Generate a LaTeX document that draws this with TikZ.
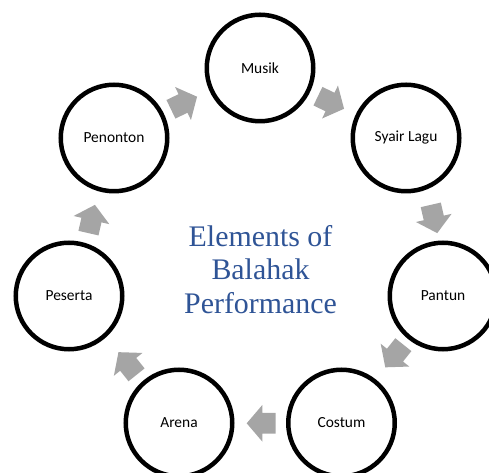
\documentclass[tikz,border=0pt]{standalone}
\usepackage{fontspec}
\setmainfont{Liberation Serif}
\newfontfamily\labelfont{Carlito}
\definecolor{arrowgrey}{HTML}{A5A5A5}
\definecolor{titleblue}{HTML}{2F5496}
\begin{document}
\begin{tikzpicture}[x=1bp,y=1bp,
  ring/.style={circle, draw=black, line width=4.5bp, minimum size=106.5bp, inner sep=0pt,
    font=\labelfont\fontsize{15.5}{18}\selectfont},
  titleline/.style={text=titleblue, font=\fontsize{30}{33.5}\selectfont, anchor=base, inner sep=0pt},
  blockarrow/.style={fill=arrowgrey, draw=none}]
\useasboundingbox (0,0) rectangle (489,473);
\begin{scope}
\clip (0,0) rectangle (489,460);
\node[ring] (musik)    at (260,405)   {Musik};
\node[ring] (syair)    at (406,335)   {Syair Lagu};
\node[ring] (pantun)   at (443,177)   {Pantun};
\node[ring] (costum)   at (341.5,50)  {Costum};
\node[ring] (arena)    at (179,50)    {Arena};
\node[ring] (peserta)  at (69,177)    {Peserta};
\node[ring] (penonton) at (114,335)   {Penonton};
\end{scope}
% arrow positions
\coordinate (a1) at (184,370);
\coordinate (a2) at (331,370.5);
\coordinate (a3) at (434,254);
\coordinate (a4) at (394.3,117);
\coordinate (a5) at (261.2,49.7);
\coordinate (a6) at (127.5,109.5);
\coordinate (a7) at (91.7,254);
\foreach \c/\ang in {a1/25.7, a2/-25.7, a3/-77.1, a4/-128.6, a5/180, a6/128.6, a7/77.1}{
  \begin{scope}[shift={(\c)}, rotate=\ang]
    \fill[blockarrow] (-14.5,10.3) -- (-1.1,10.3) -- (-1.1,18.3) -- (14.5,0)
      -- (-1.1,-18.3) -- (-1.1,-10.3) -- (-14.5,-10.3) -- cycle;
  \end{scope}
}
\node[titleline] (t1) at (260.5,226.5) {Elements of};
\node[titleline] (t2) at (260.5,193)   {Balahak};
\node[titleline] (t3) at (260.5,159.7) {Performance};
\end{tikzpicture}
\end{document}
